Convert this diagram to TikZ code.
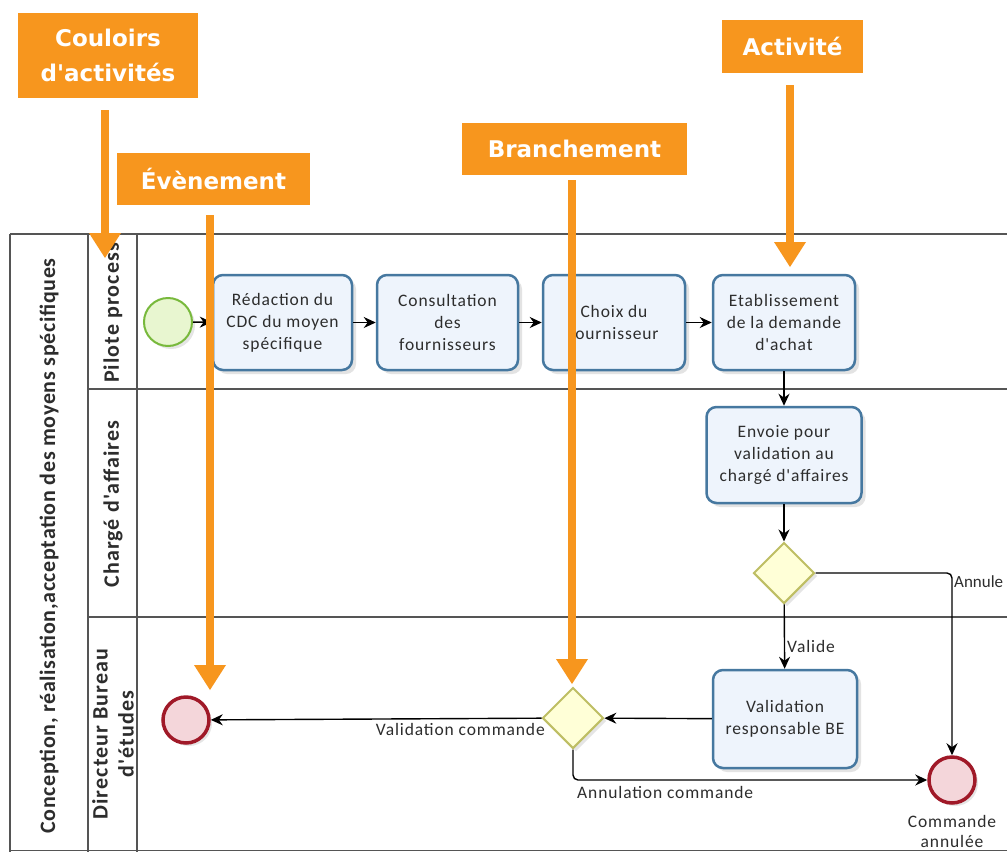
\documentclass[tikz,border=0pt]{standalone}
\usepackage{fontspec}
\setmainfont{Carlito}
\newfontfamily\calloutfont{DejaVu Sans}
\newfontfamily\spacedfont[LetterSpace=5]{Carlito}
\newfontfamily\poolfont[LetterSpace=3]{Carlito}
\usetikzlibrary{arrows.meta,shapes.geometric,shadows}
\definecolor{orng}{RGB}{247,150,30}
\definecolor{taskfill}{RGB}{238,244,252}
\definecolor{taskdraw}{RGB}{70,120,160}
\definecolor{startfill}{RGB}{232,246,208}
\definecolor{startdraw}{RGB}{120,185,60}
\definecolor{endfill}{RGB}{244,214,218}
\definecolor{enddraw}{RGB}{160,25,40}
\definecolor{gwfill}{RGB}{255,255,215}
\definecolor{gwdraw}{RGB}{190,190,100}
\definecolor{lanecol}{RGB}{85,85,85}
\definecolor{txtgray}{RGB}{45,45,45}
\tikzset{
  lane/.style={draw=lanecol, line width=1.4pt},
  lanelabel/.style={font=\spacedfont\bfseries\fontsize{22}{26}\selectfont, text=txtgray, align=center, inner sep=0pt},
  poollabel/.style={font=\poolfont\bfseries\fontsize{22}{26}\selectfont, text=txtgray, align=center, inner sep=0pt},
  task/.style={draw=taskdraw, line width=2.5pt, fill=taskfill, rounded corners=10pt,
    align=center, font=\spacedfont\fontsize{17.5}{22}\selectfont, text=txtgray, inner sep=0pt,
    drop shadow={opacity=0.22, shadow xshift=4pt, shadow yshift=-4pt}},
  startev/.style={circle, draw=startdraw, line width=2pt, fill=startfill, minimum size=48pt, inner sep=0pt,
    drop shadow={opacity=0.2, shadow xshift=3pt, shadow yshift=-3pt}},
  endev/.style={circle, draw=enddraw, line width=3.5pt, fill=endfill, minimum size=46pt, inner sep=0pt,
    drop shadow={opacity=0.2, shadow xshift=3pt, shadow yshift=-3pt}},
  gw/.style={diamond, draw=gwdraw, line width=2pt, fill=gwfill, minimum width=61pt, minimum height=61pt, aspect=1, inner sep=0pt,
    drop shadow={opacity=0.2, shadow xshift=3pt, shadow yshift=-3pt}},
  flow/.style={draw=black, line width=1.4pt, -{Stealth[length=12pt,width=11pt]}},
  lbl/.style={font=\spacedfont\fontsize{17.5}{20}\selectfont, text=txtgray, inner sep=0pt},
  callout/.style={fill=orng, text=white, font=\calloutfont\bfseries\fontsize{23}{35}\selectfont, align=center, inner sep=0pt},
  callarrow/.style={draw=orng, line width=8pt, -{Triangle[length=25pt,width=32pt,line width=0pt]}}
}
\begin{document}
\begin{tikzpicture}[x=1pt,y=-1pt]
\clip (0,0) rectangle (1007,852);
\fill[white] (0,0) rectangle (1007,852);
% pool and lanes
\draw[lane] (10,234) -- (1007,234);
\draw[lane] (10,850.5) -- (1007,850.5);
\draw[lane] (10,234) -- (10,852);
\draw[lane] (88,234) -- (88,852);
\draw[lane] (137,234) -- (137,852);
\draw[lane] (88,389) -- (1007,389);
\draw[lane] (88,617) -- (1007,617);
\node[poollabel, rotate=90] (pool) at (49,546) {Conception, réalisation,acceptation des moyens spécifiques};
\node[lanelabel, rotate=90] (lpilote) at (113,313) {Pilote process};
\node[lanelabel, rotate=90] (lcharge) at (113,504) {Chargé d'affaires};
\node[lanelabel, rotate=90] (ldir) at (113,734) {Directeur Bureau\\d'études};
% process
\node[startev] (st) at (168,322) {};
\node[task, minimum width=139pt, minimum height=95pt] (t1) at (282.5,322.5) {Rédaction du\\CDC du moyen\\spécifique};
\node[task, minimum width=141pt, minimum height=95pt] (t2) at (447.5,322.5) {Consultation\\des\\fournisseurs};
\node[task, minimum width=142pt, minimum height=95pt] (t3) at (614,322.5) {Choix du\\fournisseur};
\node[task, minimum width=142pt, minimum height=95pt] (t4) at (784,322.5) {Etablissement\\de la demande\\d'achat};
\node[task, minimum width=155pt, minimum height=96pt] (t5) at (784,455) {Envoie pour\\validation au\\chargé d'affaires};
\node[gw] (g1) at (784,573) {};
\node[task, minimum width=144pt, minimum height=98pt] (t6) at (785,719) {Validation\\responsable BE};
\node[gw] (g2) at (573,718) {};
\node[endev] (e1) at (186,720) {};
\node[endev] (e2) at (952,780) {};
\node[lbl, align=center] (e2lbl) at (952,831) {Commande\\annulée};
% flows
\draw[flow] (st) -- (t1);
\draw[flow] (t1) -- (t2);
\draw[flow] (t2) -- (t3);
\draw[flow] (t3) -- (t4);
\draw[flow] (t4) -- (t5);
\draw[flow] (t5) -- (g1);
\draw[flow] (g1) -- (t6);
\node[lbl, anchor=west] (lvalide) at (787,646) {Valide};
\draw[flow, rounded corners=5pt] (g1.east) -| (e2.north);
\node[lbl, anchor=west, font=\fontsize{17}{20}\selectfont] (lannule) at (954,582) {Annule};
\draw[flow] (t6) -- (g2);
\draw[flow] (g2) -- (e1);
\node[lbl, anchor=east] (lvalcmd) at (545,729) {Validation commande};
\draw[flow, rounded corners=5pt] (g2.south) |- (e2.west);
\node[lbl, anchor=west] (lanncmd) at (577,792) {Annulation commande};
% callouts
\node[callout, minimum width=180pt, minimum height=85pt] (cc) at (108,55.5) {Couloirs\\d'activités};
\node[callout, minimum width=193pt, minimum height=52pt] (ce) at (213.5,179) {Évènement};
\node[callout, minimum width=225pt, minimum height=52pt] (cb) at (574.5,149) {Branchement};
\node[callout, minimum width=141pt, minimum height=53pt] (ca) at (792.5,46.5) {Activité};
\coordinate (tipc) at (105,258);
\coordinate (tipe) at (210,690);
\coordinate (tipb) at (572,684);
\coordinate (tipa) at (790,267);
\draw[callarrow] (105,110) -- (tipc);
\draw[callarrow] (210,215) -- (tipe);
\draw[callarrow] (572,180) -- (tipb);
\draw[callarrow] (790,85) -- (tipa);
\end{tikzpicture}
\end{document}
